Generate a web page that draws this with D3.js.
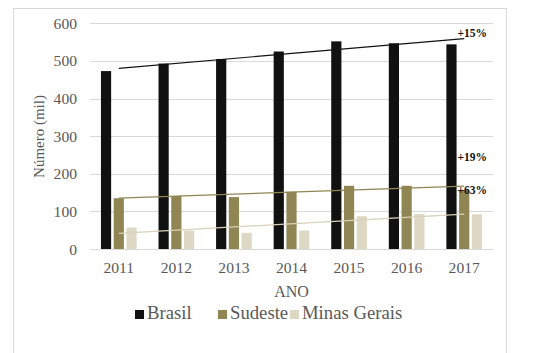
<!DOCTYPE html>
<html><head><meta charset="utf-8">
<script src="https://cdn.jsdelivr.net/npm/d3@7"></script>
<style>
html,body{margin:0;padding:0;background:#fff;}
svg{display:block;}
svg text{font-family:"Liberation Serif","Times New Roman",serif;}
</style></head>
<body>
<svg id="chart" width="550" height="353"></svg>
<script>
const years = ["2011","2012","2013","2014","2015","2016","2017"];
const seriesNames = ["Brasil","Sudeste","Minas Gerais"];
const brasil = [473, 493, 505, 525, 552, 547, 544];
const sudeste = [135, 141, 138, 152, 168, 168, 157];
const minas = [57, 49, 43, 49, 87, 93, 92];
const yTicks = [0,100,200,300,400,500,600];
const trendLabels = [
  {text:"+15%", value:574},
  {text:"+19%", value:244},
  {text:"+63%", value:157}
];
const colors = ["#111111","#8f8654","#ddd8c3"];
const trendColors = ["#111111","#8f8654","#d8d2bb"];

(function(){
const seriesData = [brasil, sudeste, minas];
const svg = d3.select("#chart");
const pLeft = 90, pRight = 493, pTop = 23.3, pBottom = 249;

svg.append("rect").attr("x",13.5).attr("y",8.5).attr("width",493).attr("height",360)
  .attr("fill","none").attr("stroke","#d9d9d9").attr("stroke-width",1);

const y = d3.scaleLinear().domain([0,600]).range([pBottom, pTop]);
const x0 = d3.scaleBand().domain(years).range([pLeft,pRight]).paddingInner(0.38).paddingOuter(0.19);
const x1 = d3.scaleBand().domain(seriesNames).range([0,x0.bandwidth()]).paddingInner(0.2);

svg.append("g").selectAll("line").data(yTicks.filter(t=>t>0)).join("line")
  .attr("x1",pLeft).attr("x2",pRight)
  .attr("y1",d=>Math.round(y(d))+0.5).attr("y2",d=>Math.round(y(d))+0.5)
  .attr("stroke","#d9d9d9").attr("stroke-width",1);

const yAxis = d3.axisLeft(y).tickValues(yTicks).tickSize(0).tickPadding(13);
const gy = svg.append("g").attr("transform",`translate(${pLeft},0)`).call(yAxis);
gy.attr("font-family",null);
gy.select(".domain").remove();
gy.selectAll("text").attr("font-size","15.6px").attr("fill","#595959");

seriesNames.forEach((s,si)=>{
  svg.append("g").selectAll("rect").data(years).join("rect")
    .attr("x",(d)=>x0(d)+x1(s))
    .attr("width",x1.bandwidth())
    .attr("y",(d,i)=>y(seriesData[si][i]))
    .attr("height",(d,i)=>pBottom - y(seriesData[si][i]))
    .attr("fill",colors[si]);
});

svg.append("line").attr("x1",pLeft).attr("x2",pRight).attr("y1",pBottom+0.5).attr("y2",pBottom+0.5)
  .attr("stroke","#d9d9d9").attr("stroke-width",1);

const xAxis = d3.axisBottom(x0).tickSize(0).tickPadding(13);
const gx = svg.append("g").attr("transform",`translate(0,${pBottom})`).call(xAxis);
gx.attr("font-family",null);
gx.select(".domain").remove();
gx.selectAll("text").attr("font-size","15.6px").attr("fill","#595959");

seriesData.forEach((vals,si)=>{
  const n = vals.length;
  const xs = d3.range(n);
  const mx = d3.mean(xs), my = d3.mean(vals);
  const slope = d3.sum(xs.map((xi,i)=>(xi-mx)*(vals[i]-my))) / d3.sum(xs.map(xi=>(xi-mx)*(xi-mx)));
  const inter = my - slope*mx;
  const xA = x0(years[0]) + x0.bandwidth()/2;
  const xB = x0(years[n-1]) + x0.bandwidth()/2;
  svg.append("line")
    .attr("x1",xA).attr("y1",y(inter))
    .attr("x2",xB).attr("y2",y(inter+slope*(n-1)))
    .attr("stroke",trendColors[si]).attr("stroke-width",1.2);
});

svg.append("g").selectAll("text").data(trendLabels).join("text")
  .attr("x",457.5).attr("y",d=>y(d.value)).attr("dy","0.35em")
  .attr("font-size","11.5px").attr("font-weight","bold").attr("fill","#111")
  .text(d=>d.text);

svg.append("text").attr("x",(pLeft+pRight)/2).attr("y",296.5).attr("text-anchor","middle")
  .attr("font-size","16px").attr("fill","#595959").text("ANO");
svg.append("text").attr("transform","translate(44,136.5) rotate(-90)").attr("text-anchor","middle")
  .attr("font-size","15px").attr("fill","#595959").text("Número (mil)");

const legendPos = [135, 218, 290];
const lg = svg.append("g");
seriesNames.forEach((s,i)=>{
  lg.append("rect").attr("x",legendPos[i]).attr("y",310).attr("width",9).attr("height",9).attr("fill",colors[i]);
  lg.append("text").attr("x",legendPos[i]+12).attr("y",319).attr("font-size","18.7px").attr("fill","#595959").text(s);
});
})();
</script>
</body></html>
